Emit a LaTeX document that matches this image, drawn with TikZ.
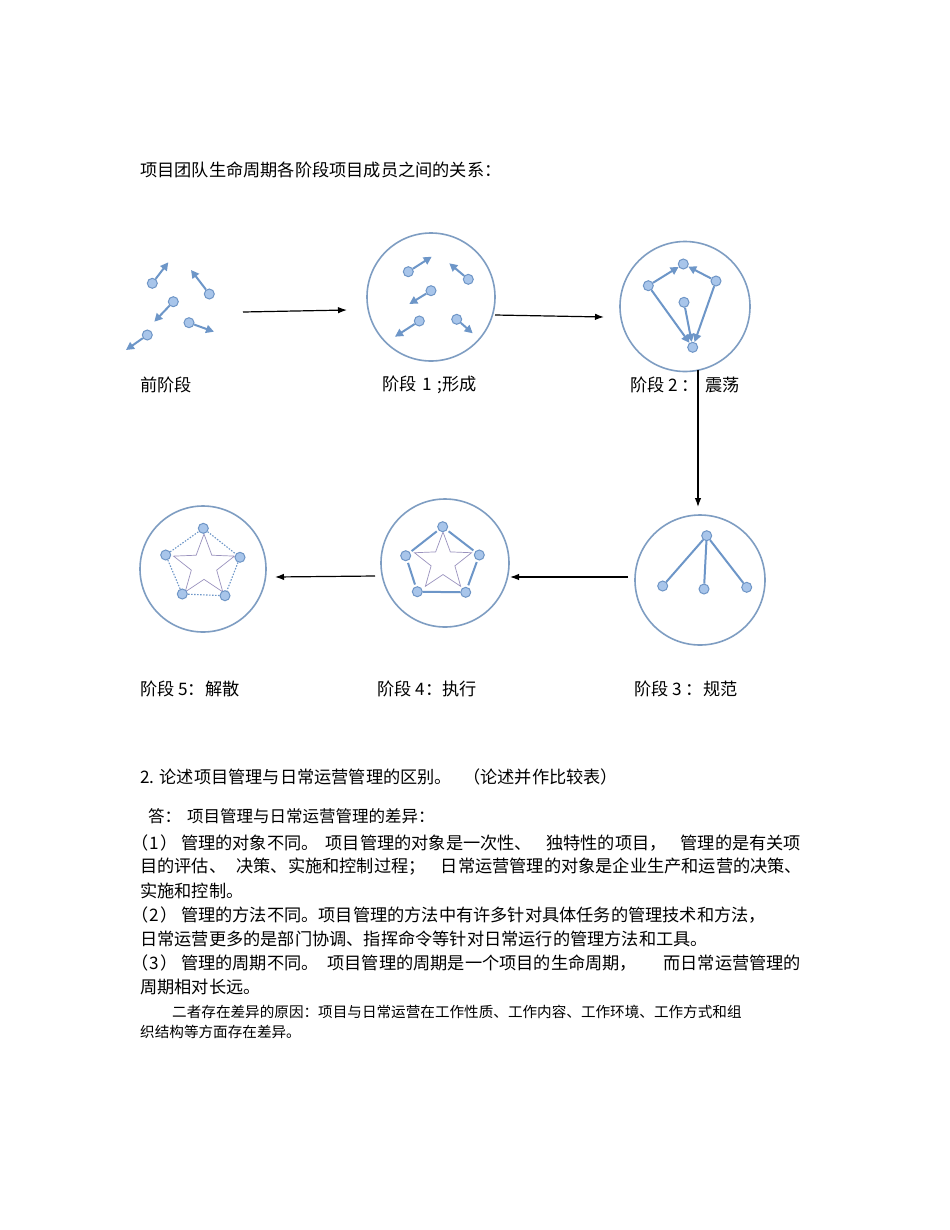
\documentclass[tikz,border=0pt]{standalone}
\usepackage{fontspec}
\setmainfont{Noto Sans CJK SC}
\usetikzlibrary{arrows.meta,shapes.geometric}
\definecolor{circ}{HTML}{7E9DC2}
\definecolor{dotfill}{HTML}{A8C5EA}
\definecolor{dotline}{HTML}{6E95C6}
\definecolor{arr}{HTML}{6D96C8}
\definecolor{starc}{HTML}{9A92BE}
\begin{document}
\begin{tikzpicture}[x=1bp,y=-1bp,
 every node/.style={font=\fontsize{17.2bp}{20bp}\selectfont},
 txt/.style={anchor=west,inner sep=0pt},
 smalltxt/.style={anchor=west,inner sep=0pt,font=\fontsize{14.6bp}{18bp}\selectfont},
 member/.style={circle,minimum size=10bp,inner sep=0pt,fill=dotfill,draw=dotline,line width=1bp},
 mv/.style={draw=arr,line width=2bp,-{Triangle[length=8bp,width=8bp]}},
 ml/.style={draw=arr,line width=2bp},
 mdot/.style={draw=arr,line width=1.1bp,dash pattern=on 1.5bp off 1.5bp},
 stagering/.style={circle,draw=circ,line width=1.6bp,inner sep=0pt},
 flow/.style={draw=black,line width=1.2bp,-{Latex[length=9bp,width=6.5bp]}},
 starnode/.style={star,star points=5,star point ratio=2.4,draw=starc,line width=0.7bp,inner sep=0pt},
]
\useasboundingbox[fill=white] (0,0) rectangle (950,1230);

% title
\node[txt] (title) at (140,170) {项目团队生命周期各阶段项目成员之间的关系：};

% ---------- stage 0 ----------
\node[member] (a1) at (152.3,283.3) {}; \coordinate (a1e) at (168.3,262.3);
\node[member] (a2) at (209.3,294) {};   \coordinate (a2e) at (191,270);
\node[member] (a3) at (173.3,301.7) {}; \coordinate (a3e) at (154.3,321.7);
\node[member] (a4) at (189,322.7) {};   \coordinate (a4e) at (214,331.7);
\node[member] (a5) at (147.3,335) {};   \coordinate (a5e) at (126,350);
\foreach \n in {a1,a2,a3,a4,a5} {\draw[mv] (\n) -- (\n e);}

% ---------- stage 1 ----------
\node[stagering,minimum size=128bp] (c1) at (431,297) {};
\node[member] (b1) at (408.3,271.7) {}; \coordinate (b1e) at (431.7,256.7);
\node[member] (b2) at (468.3,279.3) {}; \coordinate (b2e) at (449.3,263.3);
\node[member] (b3) at (431,290.7) {};   \coordinate (b3e) at (409.3,304);
\node[member] (b4) at (419.3,321) {};   \coordinate (b4e) at (395,336.7);
\node[member] (b5) at (456.7,319.3) {}; \coordinate (b5e) at (472.7,333.3);
\foreach \n in {b1,b2,b3,b4,b5} {\draw[mv] (\n) -- (\n e);}

% ---------- stage 2 ----------
\node[stagering,minimum size=130bp] (c2) at (685,306.5) {};
\node[member] (s2a) at (648.3,285.7) {};
\node[member] (s2b) at (683.3,264) {};
\node[member] (s2c) at (716,281) {};
\node[member] (s2d) at (684,302.3) {};
\node[member] (s2e) at (692.7,347.3) {};
\draw[mv] (s2a) -- (s2b);
\draw[mv] (s2c) -- (s2b);
\draw[mv] (s2a) -- (s2e);
\draw[mv] (s2d) -- (s2e);
\draw[mv] (s2c) -- (s2e);

% ---------- stage 3 ----------
\node[stagering,minimum size=130bp] (c3) at (700,580) {};
\node[member] (s3t) at (706.7,535.7) {};
\node[member] (s3l) at (662.7,586) {};
\node[member] (s3m) at (704,589) {};
\node[member] (s3r) at (746.7,587.3) {};
\draw[ml] (s3t) -- (s3l);
\draw[ml] (s3t) -- (s3m);
\draw[ml] (s3t) -- (s3r);

% ---------- stage 4 ----------
\node[stagering,minimum size=128bp] (c4) at (445,563) {};
\node[starnode,minimum size=60bp] (st4) at (443,562) {};
\node[member] (s4t) at (442.7,526.7) {};
\node[member] (s4l) at (405.7,555.7) {};
\node[member] (s4r) at (479.3,555) {};
\node[member] (s4bl) at (417.3,591.7) {};
\node[member] (s4br) at (465.7,592.3) {};
\draw[ml,shorten <=2bp,shorten >=2bp] (s4t) -- (s4r);
\draw[ml,shorten <=2bp,shorten >=2bp] (s4r) -- (s4br);
\draw[ml] (s4br) -- (s4bl);
\draw[ml,shorten <=2bp,shorten >=2bp] (s4bl) -- (s4l);
\draw[ml,shorten <=2bp,shorten >=2bp] (s4l) -- (s4t);

% ---------- stage 5 ----------
\node[stagering,minimum size=126bp] (c5) at (203,569) {};
\node[starnode,minimum size=64bp] (st5) at (204,566) {};
\node[member] (s5t) at (203.3,528.3) {};
\node[member] (s5l) at (165.7,555) {};
\node[member] (s5r) at (240,557.3) {};
\node[member] (s5bl) at (182.3,594) {};
\node[member] (s5br) at (225,595.7) {};
\draw[mdot] (s5t) -- (s5r) -- (s5br) -- (s5bl) -- (s5l) -- (s5t);

% ---------- flow arrows ----------
\coordinate (f01s) at (243,312); \coordinate (f01e) at (347,310);
\coordinate (f12s) at (495,315); \coordinate (f12e) at (604,317);
\coordinate (f23s) at (698,370); \coordinate (f23e) at (698,507);
\coordinate (f34s) at (628,577); \coordinate (f34e) at (510,577);
\coordinate (f45s) at (375,576); \coordinate (f45e) at (275,577);
\draw[flow] (f01s) -- (f01e);
\draw[flow] (f12s) -- (f12e);
\draw[flow] (f23s) -- (f23e);
\draw[flow] (f34s) -- (f34e);
\draw[flow] (f45s) -- (f45e);

% ---------- stage labels ----------
\node[txt] (l0) at (140,385) {前阶段};
\node[txt] (l1) at (382,385) {阶段\kern2bp{} 1\kern2bp{} ;形成};
\node[txt] (l2) at (630,385) {阶段 2 ：\kern6bp 震荡};
\node[txt] (l5) at (140,689) {阶段 5：解散};
\node[txt] (l4) at (377,689) {阶段 4：执行};
\node[txt] (l3) at (634,689) {阶段 3 ：规范};

% ---------- question text ----------
\node[txt] (q2) at (140,777) {\makebox[478bp][s]{2. 论述项目管理与日常运营管理的区别。\hspace{0pt plus 1fil}（论述并作比较表）}};
\node[txt,font=\fontsize{16.5bp}{20bp}\selectfont] (ans) at (148,816) {答：\hspace{6bp}项目管理与日常运营管理的差异：};
\node[txt] (p1a) at (131,843) {\makebox[670bp][s]{（\kern1.5bp 1\kern1.5bp）\kern3bp 管理的对象不同。\hspace{0pt plus 1fil}项目管理的对象是一次性、\hspace{0pt plus 2fil}独特性的项目，\hspace{0pt plus 2fil}管理的是有关项}};
\node[txt] (p1b) at (140,867) {\makebox[662bp][s]{目的评估、\hspace{0pt plus 1fil}决策、实施和控制过程；\hspace{0pt plus 1.5fil}日常运营管理的对象是企业生产和运营的决策、}};
\node[txt] (p1c) at (140,891) {实施和控制。};
\node[txt] (p2a) at (131,915) {（\kern1.5bp 2\kern1.5bp）\kern3bp 管理的方法不同。项目管理的方法中有许多针对具体任务的管理技术和方法，};
\node[txt] (p2b) at (140,939) {日常运营更多的是部门协调、指挥命令等针对日常运行的管理方法和工具。};
\node[txt] (p3a) at (131,963) {\makebox[670bp][s]{（\kern1.5bp 3\kern1.5bp）\kern3bp 管理的周期不同。\hspace{0pt plus 1fil}项目管理的周期是一个项目的生命周期，\hspace{0pt plus 3fil}而日常运营管理的}};
\node[txt] (p3b) at (140,987) {周期相对长远。};
\node[smalltxt] (p4a) at (172,1012) {二者存在差异的原因：项目与日常运营在工作性质、工作内容、工作环境、工作方式和组};
\node[smalltxt] (p4b) at (140,1032) {织结构等方面存在差异。};
\end{tikzpicture}
\end{document}
